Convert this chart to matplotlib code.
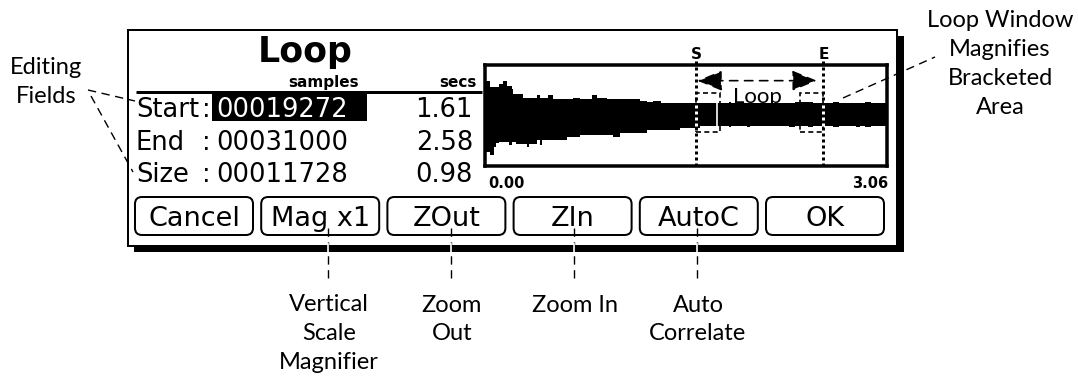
import matplotlib.pyplot as plt
from matplotlib.patches import Rectangle, FancyBboxPatch

# what the LCD screen shows
title = "Loop"
field_names = ["Start", "End", "Size"]
field_samples = ["00019272", "00031000", "00011728"]
field_secs = ["1.61", "2.58", "0.98"]
wave_len = 3.06      # seconds shown in the loop window
loop_start = 1.61
loop_end = 2.58
buttons = ["Cancel", "Mag x1", "ZOut", "ZIn", "AutoC", "OK"]
callouts = ["Vertical\nScale\nMagnifier", "Zoom\nOut", "Zoom In", "Auto\nCorrelate"]
left_note = "Editing\nFields"
right_note = "Loop Window\nMagnifies\nBracketed\nArea"

# waveform envelope (time in s, top / bottom level)
env_t = [0.01, 0.04, 0.07, 0.09, 0.11, 0.14, 0.17, 0.19, 0.21, 0.22, 0.24, 0.29,
         0.32, 0.34, 0.40, 0.42, 0.44, 0.48, 0.52, 0.63, 0.67, 0.73, 0.82, 0.86,
         0.93, 0.98, 1.03, 1.18, 1.24, 1.28, 1.34, 1.49, 1.64, 1.86, 1.88, 2.00,
         2.02, 2.32, 2.36, 2.46, 2.50, 2.65, 2.70, 2.83, 2.86, 2.90, 2.94, 3.06]
env_hi = [0.67, 0.55, 0.55, 0.55, 0.61, 0.67, 0.57, 0.57, 0.51, 0.41, 0.41, 0.33,
          0.33, 0.33, 0.39, 0.33, 0.33, 0.39, 0.31, 0.31, 0.33, 0.31, 0.39, 0.33,
          0.31, 0.31, 0.31, 0.27, 0.25, 0.27, 0.22, 0.22, 0.22, 0.24, 0.22, 0.22,
          0.22, 0.22, 0.24, 0.24, 0.22, 0.24, 0.22, 0.22, 0.22, 0.24, 0.22, 0.22]
env_lo = [-0.75, -0.80, -0.65, -0.57, -0.55, -0.55, -0.55, -0.61, -0.55, -0.55, -0.59, -0.59,
          -0.65, -0.59, -0.51, -0.61, -0.51, -0.51, -0.51, -0.45, -0.45, -0.41, -0.41, -0.41,
          -0.41, -0.45, -0.37, -0.37, -0.31, -0.31, -0.31, -0.27, -0.22, -0.25, -0.22, -0.25,
          -0.22, -0.25, -0.22, -0.25, -0.22, -0.25, -0.22, -0.25, -0.22, -0.25, -0.22, -0.22]

PX = 0.72  # one pixel in points (dpi 100)
LCD = "DejaVu Sans"
NOTE = "Lato"
DASH = (0, (6, 4))

fig = plt.figure(figsize=(10.78, 3.76), dpi=100)
ax = fig.add_axes([0, 0, 1, 1])
ax.set_xlim(0, 1078)
ax.set_ylim(376, 0)
ax.axis("off")


def note(x, y_last, s):
    # y_last is the baseline of the last line
    ax.text(x, y_last, s, family=NOTE, fontsize=17, ha="center", va="baseline",
            multialignment="center", linespacing=1.47)


# screen frame with drop shadow
ax.add_patch(Rectangle((134, 36), 770, 216, fc="k", ec="none"))
ax.add_patch(Rectangle((128, 30), 769, 216, fc="w", ec="k", lw=2 * PX))

# header
ax.text(305, 62, title, family=LCD, fontsize=25, fontweight="bold", ha="center", va="baseline")
ax.text(324, 87, "samples", family=LCD, fontsize=11, fontweight="bold", ha="center", va="baseline")
ax.text(458, 87, "secs", family=LCD, fontsize=11, fontweight="bold", ha="center", va="baseline")
ax.plot([136, 482], [92, 92], color="k", lw=3 * PX, solid_capstyle="butt")

# editing fields, first one selected
ax.add_patch(Rectangle((212, 91), 155, 30, fc="k", ec="none"))
for i, (name, smp, sec) in enumerate(zip(field_names, field_samples, field_secs)):
    y = 117 + i * 32.5
    ax.text(136, y, name, family=LCD, fontsize=18.5, va="baseline")
    ax.text(206, y, ":", family=LCD, fontsize=18.5, ha="center", va="baseline")
    ax.text(216, y, smp, family=LCD, fontsize=18.5, va="baseline",
            color="w" if i == 0 else "k")
    ax.text(473, y, sec, family=LCD, fontsize=18.5, ha="right", va="baseline")

# soft buttons
for i, lab in enumerate(buttons):
    x0 = 135 + i * 126.2
    ax.add_patch(FancyBboxPatch((x0, 197), 118, 38, boxstyle="round,pad=0,rounding_size=7",
                                fc="w", ec="k", lw=2 * PX))
    ax.text(x0 + 59, 226, lab, family=LCD, fontsize=19.5, ha="center", va="baseline")

# callouts under the buttons
for x, lab in zip([328, 451, 574, 697], callouts):
    ax.plot([x, x], [228, 283], color="k", lw=1, ls=DASH)
    ax.plot([x, x], [244, 253], color="w", lw=1.2)
    note(x + 1, 312 + 28.5 * lab.count("\n"), lab)

note(46, 103, left_note)
ax.plot([88, 135], [90, 101], color="k", lw=1, ls=DASH)
ax.plot([91, 133], [96, 172], color="k", lw=1, ls=DASH)

note(1000, 114, right_note)
ax.plot([843, 935], [98, 57], color="k", lw=1, ls=DASH)

# loop window
wax = fig.add_axes([484.5 / 1078, 1 - 166.5 / 376, 402 / 1078, 102 / 376])
wax.patch.set_visible(False)
wax.fill_between(env_t, env_lo, env_hi, step="post", color="k", lw=0)
wax.set_xlim(0, wave_len)
wax.set_ylim(-1.03, 0.99)
wax.set_xticks([])
wax.set_yticks([])
for sp in wax.spines.values():
    sp.set_linewidth(3.5 * PX)

for t, lab in [(loop_start, "S"), (loop_end, "E")]:
    wax.plot([t, t], [-1.03, 1.06], color="k", lw=3 * PX, ls=(0, (1, 1)), clip_on=False)
    wax.plot([t, t], [-0.22, 0.22], color="w", lw=3 * PX, ls=(0, (1, 1)))
    wax.text(t, 1.1, lab, family=LCD, fontsize=11, fontweight="bold", ha="center",
             va="baseline", clip_on=False)

wax.text(0.027, -1.45, f"{0:.2f}", family=LCD, fontsize=10.5, fontweight="bold",
         va="baseline", clip_on=False)
wax.text(wave_len + 0.01, -1.45, f"{wave_len:.2f}", family=LCD, fontsize=10.5,
         fontweight="bold", ha="right", va="baseline", clip_on=False)

# loop arrow and brackets
wax.annotate("", xy=(loop_end - 0.05, 0.67), xytext=(loop_start + 0.01, 0.67),
             arrowprops=dict(arrowstyle="<|-|>,head_length=1.1,head_width=0.45",
                             color="k", lw=1.2, ls=(0, (5, 4)), mutation_scale=14,
                             shrinkA=0, shrinkB=0))
wax.text((loop_start + loop_end) / 2 - 0.02, 0.235, "Loop", family=NOTE, fontsize=16,
         ha="center", va="baseline")
for x0 in [loop_start, loop_end - 0.18]:
    wax.add_patch(Rectangle((x0, -0.35), 0.18, 0.78, fill=False, ec="k", lw=1.2,
                            ls=(0, (3, 2))))
wax.plot([loop_start + 0.16, loop_start + 0.16], [-0.22, 0.22], color="w", lw=1.2)

plt.savefig("out.png", dpi=100)
